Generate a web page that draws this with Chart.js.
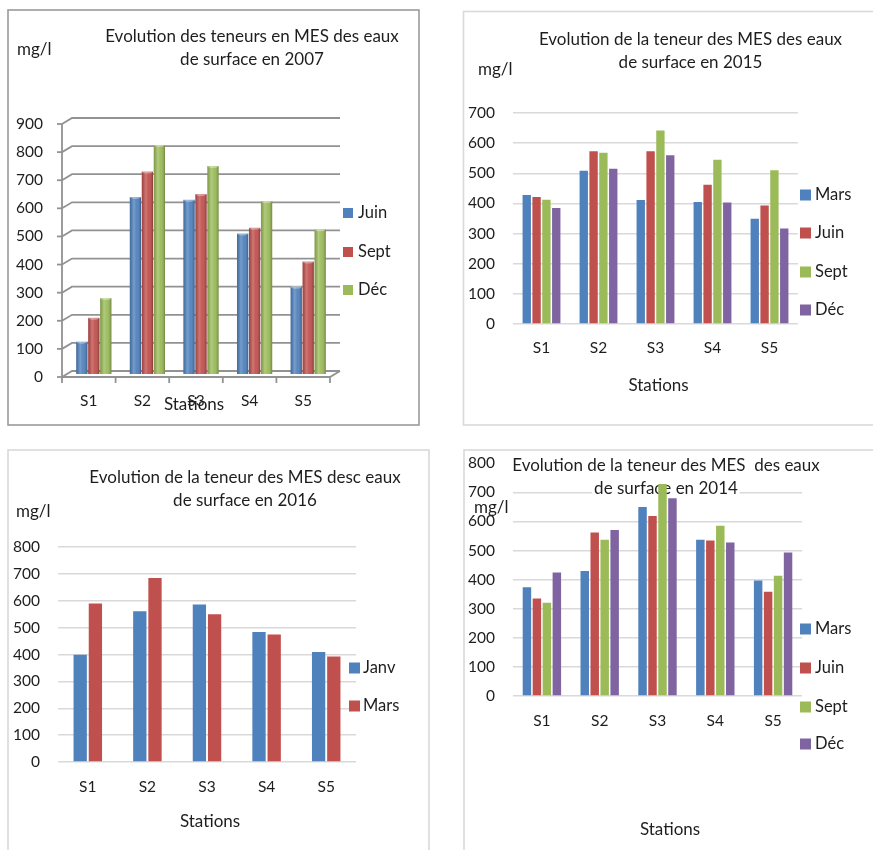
<!DOCTYPE html>
<html>
<head>
<meta charset="utf-8">
<script src="https://cdn.jsdelivr.net/npm/chart.js@4"></script>
<style>
  html, body { margin: 0; padding: 0; background: #fff; }
  body { width: 873px; height: 850px; position: relative; overflow: hidden; }
  canvas { position: absolute; }
</style>
</head>
<body>
<canvas id="c2007" width="436" height="436" style="left:0;top:0"></canvas>
<canvas id="c2015" width="437" height="436" style="left:436px;top:0"></canvas>
<canvas id="c2016" width="436" height="414" style="left:0;top:436px"></canvas>
<canvas id="c2014" width="437" height="414" style="left:436px;top:436px"></canvas>
<script>
// ---- data (mg/l of suspended matter per station) ----
const stations = ['S1', 'S2', 'S3', 'S4', 'S5'];

const months2007 = ['Juin', 'Sept', 'Déc'];
const juin2007 = [115, 630, 620, 500, 310];
const sept2007 = [200, 720, 640, 520, 400];
const dec2007  = [270, 815, 740, 615, 515];

const months2015 = ['Mars', 'Juin', 'Sept', 'Déc'];
const mars2015 = [428, 508, 411, 405, 349];
const juin2015 = [421, 573, 573, 462, 393];
const sept2015 = [412, 568, 642, 545, 510];
const dec2015  = [385, 515, 560, 403, 317];

const months2016 = ['Janv', 'Mars'];
const janv2016 = [399, 561, 586, 484, 409];
const mars2016 = [590, 685, 550, 474, 393];

const months2014 = ['Mars', 'Juin', 'Sept', 'Déc'];
const mars2014 = [374, 430, 650, 537, 397];
const juin2014 = [335, 562, 619, 535, 358];
const sept2014 = [321, 537, 729, 585, 413];
const dec2014  = [425, 571, 680, 528, 493];

const yMaxima = { y2007: 900, y2015: 700, y2016: 800, y2014: 800 };
const yStep = 100;

const unitLabel = 'mg/l';
const axisLabel = 'Stations';

// ---- styling ----
const palette = ['#4F81BD', '#C0504D', '#9BBB59', '#8064A2'];
const textColor = '#1e1e1e';
const FONT = "Lato, 'Open Sans', sans-serif";
Chart.defaults.font.family = FONT;
Chart.defaults.color = textColor;

function datasetsFrom(names, series) {
  return names.map((n, i) => ({
    label: n,
    data: series[i],
    backgroundColor: palette[i],
    borderWidth: 0
  }));
}

// Draws frame, titles, unit, legend, axis name and (optionally) a 3-D wall.
function decorPlugin(cfg) {
  const ox = cfg.origin[0], oy = cfg.origin[1];
  const L = (x) => x - ox, T = (y) => y - oy;
  return {
    id: 'decor',
    beforeDraw(chart) {
      const ctx = chart.ctx;
      ctx.save();
      ctx.fillStyle = '#fff';
      ctx.fillRect(0, 0, chart.width, chart.height);
      const b = cfg.frame;
      ctx.strokeStyle = b.color;
      ctx.lineWidth = b.width;
      ctx.strokeRect(L(b.x0), T(b.y0), b.x1 - b.x0, b.y1 - b.y0);
      if (cfg.wall) {
        const w = cfg.wall;
        const ys = chart.scales.y;
        const a = chart.chartArea;
        ctx.strokeStyle = w.color;
        ctx.lineWidth = w.width;
        for (let v = 0; v <= ys.max; v += yStep) {
          const yf = ys.getPixelForValue(v);
          ctx.beginPath();
          ctx.moveTo(a.left, yf);
          ctx.lineTo(a.left + w.dx, yf + w.dy);
          ctx.lineTo(a.right + w.dx, yf + w.dy);
          ctx.stroke();
          ctx.beginPath();
          ctx.moveTo(a.left - 5, yf);
          ctx.lineTo(a.left, yf);
          ctx.stroke();
        }
        ctx.beginPath();
        ctx.moveTo(a.left, a.top);
        ctx.lineTo(a.left, a.bottom);
        ctx.lineTo(a.right, a.bottom);
        ctx.lineTo(a.right + w.dx, a.bottom + w.dy);
        ctx.stroke();
        const n = stations.length;
        for (let i = 0; i <= n; i++) {
          const x = a.left + (a.right - a.left) * i / n;
          ctx.beginPath();
          ctx.moveTo(x, a.bottom);
          ctx.lineTo(x, a.bottom + 6);
          ctx.stroke();
        }
      }
      ctx.restore();
    },
    beforeDatasetsDraw(chart) {
      const ctx = chart.ctx;
      ctx.save();
      ctx.font = cfg.titleFont;
      ctx.textBaseline = 'middle';
      ctx.textAlign = 'center';
      cfg.title.lines.forEach((line, i) => {
        const y = T(cfg.title.ys[i]);
        const cx = L(cfg.title.cx);
        if (cfg.title.boxed) {
          const w = ctx.measureText(line).width;
          ctx.fillStyle = '#fff';
          ctx.fillRect(cx - w / 2 - 2, y - 10, w + 4, 20);
        }
        ctx.fillStyle = textColor;
        ctx.fillText(line, cx, y);
      });
      ctx.restore();
      if (cfg.shift) {
        ctx.save();
        ctx.translate(cfg.shift[0], cfg.shift[1]);
      }
    },
    afterDatasetsDraw(chart) {
      const ctx = chart.ctx;
      if (cfg.shift) {
        // cylinder-like shading on the 3-D columns
        chart.data.datasets.forEach((ds, di) => {
          chart.getDatasetMeta(di).data.forEach((bar) => {
            const left = bar.x - bar.width / 2;
            const g = ctx.createLinearGradient(left, 0, left + bar.width, 0);
            g.addColorStop(0, 'rgba(0,0,0,0.18)');
            g.addColorStop(0.35, 'rgba(255,255,255,0.22)');
            g.addColorStop(0.6, 'rgba(255,255,255,0.05)');
            g.addColorStop(1, 'rgba(0,0,0,0.28)');
            ctx.fillStyle = g;
            ctx.fillRect(left, bar.y, bar.width, bar.base - bar.y);
            ctx.beginPath();
            ctx.ellipse(bar.x, bar.y, bar.width / 2, 2, 0, 0, Math.PI * 2);
            ctx.fillStyle = 'rgba(255,255,255,0.35)';
            ctx.fill();
          });
        });
        ctx.restore();
      }
      ctx.save();
      ctx.font = cfg.textFont;
      ctx.fillStyle = textColor;
      ctx.textBaseline = 'middle';
      ctx.textAlign = 'left';
      ctx.fillText(unitLabel, L(cfg.unit.x), T(cfg.unit.y));
      ctx.textAlign = 'center';
      ctx.fillText(axisLabel, L(cfg.axisName.cx), T(cfg.axisName.y));
      const lg = cfg.legend;
      ctx.font = cfg.legendFont;
      chart.data.datasets.forEach((ds, i) => {
        const y = T(lg.ys[i]);
        ctx.fillStyle = ds.backgroundColor;
        ctx.fillRect(L(lg.x), y - lg.size / 2, lg.size, lg.size);
        ctx.fillStyle = textColor;
        ctx.textAlign = 'left';
        ctx.fillText(ds.label, L(lg.textX), y);
      });
      ctx.restore();
    }
  };
}

function makeChart(id, cfg, names, series, yMax) {
  const cv = document.getElementById(id);
  const W = cv.width, H = cv.height;
  const ox = cfg.origin[0], oy = cfg.origin[1];
  const area = { l: cfg.area.l - ox, r: cfg.area.r - ox, t: cfg.area.t - oy, b: cfg.area.b - oy };
  return new Chart(cv, {
    type: 'bar',
    data: { labels: stations, datasets: datasetsFrom(names, series) },
    options: {
      responsive: false,
      animation: false,
      events: [],
      layout: { padding: { left: 0, top: area.t, right: W - area.r, bottom: 0 } },
      datasets: { bar: { barPercentage: cfg.barPct, categoryPercentage: cfg.catPct } },
      plugins: { legend: { display: false }, title: { display: false }, tooltip: { enabled: false } },
      scales: {
        x: {
          grid: { display: false, drawTicks: false },
          border: { display: false },
          ticks: { padding: cfg.xPad, font: { size: cfg.tickSize }, color: textColor },
          afterFit(s) { s.height = H - area.b; }
        },
        y: {
          min: 0,
          max: yMax,
          grid: { display: !cfg.wall, color: '#d9d9d9', lineWidth: 1.5, drawTicks: false },
          border: { display: false },
          ticks: { stepSize: yStep, padding: cfg.yPad, font: { size: cfg.tickSize }, color: textColor },
          afterFit(s) { s.width = area.l; }
        }
      }
    },
    plugins: [decorPlugin(cfg)]
  });
}

const titleFont = '17px ' + FONT;
const labelFont = '17px ' + FONT;
const legendFont = '16.5px ' + FONT;

makeChart('c2007', {
  origin: [0, 0],
  area: { l: 62, r: 330, t: 124, b: 377 },
  barPct: 0.94, catPct: 0.67, xPad: 15, yPad: 19, tickSize: 15.5,
  shift: [5, -3],
  wall: { dx: 10, dy: -6, color: '#929292', width: 1.8 },
  frame: { x0: 8, y0: 10, x1: 419, y1: 425, color: '#9a9a9a', width: 1.6 },
  title: { lines: ['Evolution des teneurs en MES des eaux', 'de surface en 2007'], cx: 252, ys: [37, 60] },
  titleFont, textFont: labelFont, legendFont,
  unit: { x: 17, y: 50 },
  legend: { x: 343, textX: 358, size: 10, ys: [213, 252, 290] },
  axisName: { cx: 194, y: 405 }
}, months2007, [juin2007, sept2007, dec2007], yMaxima.y2007);

makeChart('c2015', {
  origin: [436, 0],
  area: { l: 513, r: 798, t: 113, b: 324 },
  barPct: 0.85, catPct: 0.69, xPad: 14.5, yPad: 18, tickSize: 15.5,
  frame: { x0: 463.5, y0: 11.5, x1: 900, y1: 425, color: '#d9d9d9', width: 1.6 },
  title: { lines: ['Evolution de la teneur des MES des eaux', 'de surface en 2015'], cx: 690.5, ys: [40, 63] },
  titleFont, textFont: labelFont, legendFont,
  unit: { x: 478, y: 70 },
  legend: { x: 800, textX: 815, size: 11, ys: [195, 233, 272, 310] },
  axisName: { cx: 658.5, y: 386 }
}, months2015, [mars2015, juin2015, sept2015, dec2015], yMaxima.y2015);

makeChart('c2016', {
  origin: [0, 436],
  area: { l: 58, r: 356, t: 547, b: 762 },
  barPct: 0.875, catPct: 0.51, xPad: 15.5, yPad: 18, tickSize: 15.5,
  frame: { x0: 8, y0: 450, x1: 429, y1: 900, color: '#d9d9d9', width: 1.6 },
  title: { lines: ['Evolution de la teneur des MES desc eaux', 'de surface en 2016'], cx: 245, ys: [478, 501] },
  titleFont, textFont: labelFont, legendFont,
  unit: { x: 16, y: 512 },
  legend: { x: 349, textX: 363, size: 11, ys: [668, 706] },
  axisName: { cx: 210, y: 822 }
}, months2016, [janv2016, mars2016], yMaxima.y2016);

makeChart('c2014', {
  origin: [436, 436],
  area: { l: 513, r: 802, t: 463, b: 696 },
  barPct: 0.85, catPct: 0.69, xPad: 15.5, yPad: 18, tickSize: 15.5,
  frame: { x0: 464, y0: 450, x1: 900, y1: 900, color: '#d9d9d9', width: 1.6 },
  title: { lines: ['Evolution de la teneur des MES  des eaux', 'de surface en 2014'], cx: 666, ys: [466, 488.5], boxed: true },
  titleFont, textFont: labelFont, legendFont,
  unit: { x: 474, y: 508 },
  legend: { x: 800, textX: 815, size: 11, ys: [629, 668, 707, 744] },
  axisName: { cx: 670, y: 830 }
}, months2014, [mars2014, juin2014, sept2014, dec2014], yMaxima.y2014);
</script>
</body>
</html>
